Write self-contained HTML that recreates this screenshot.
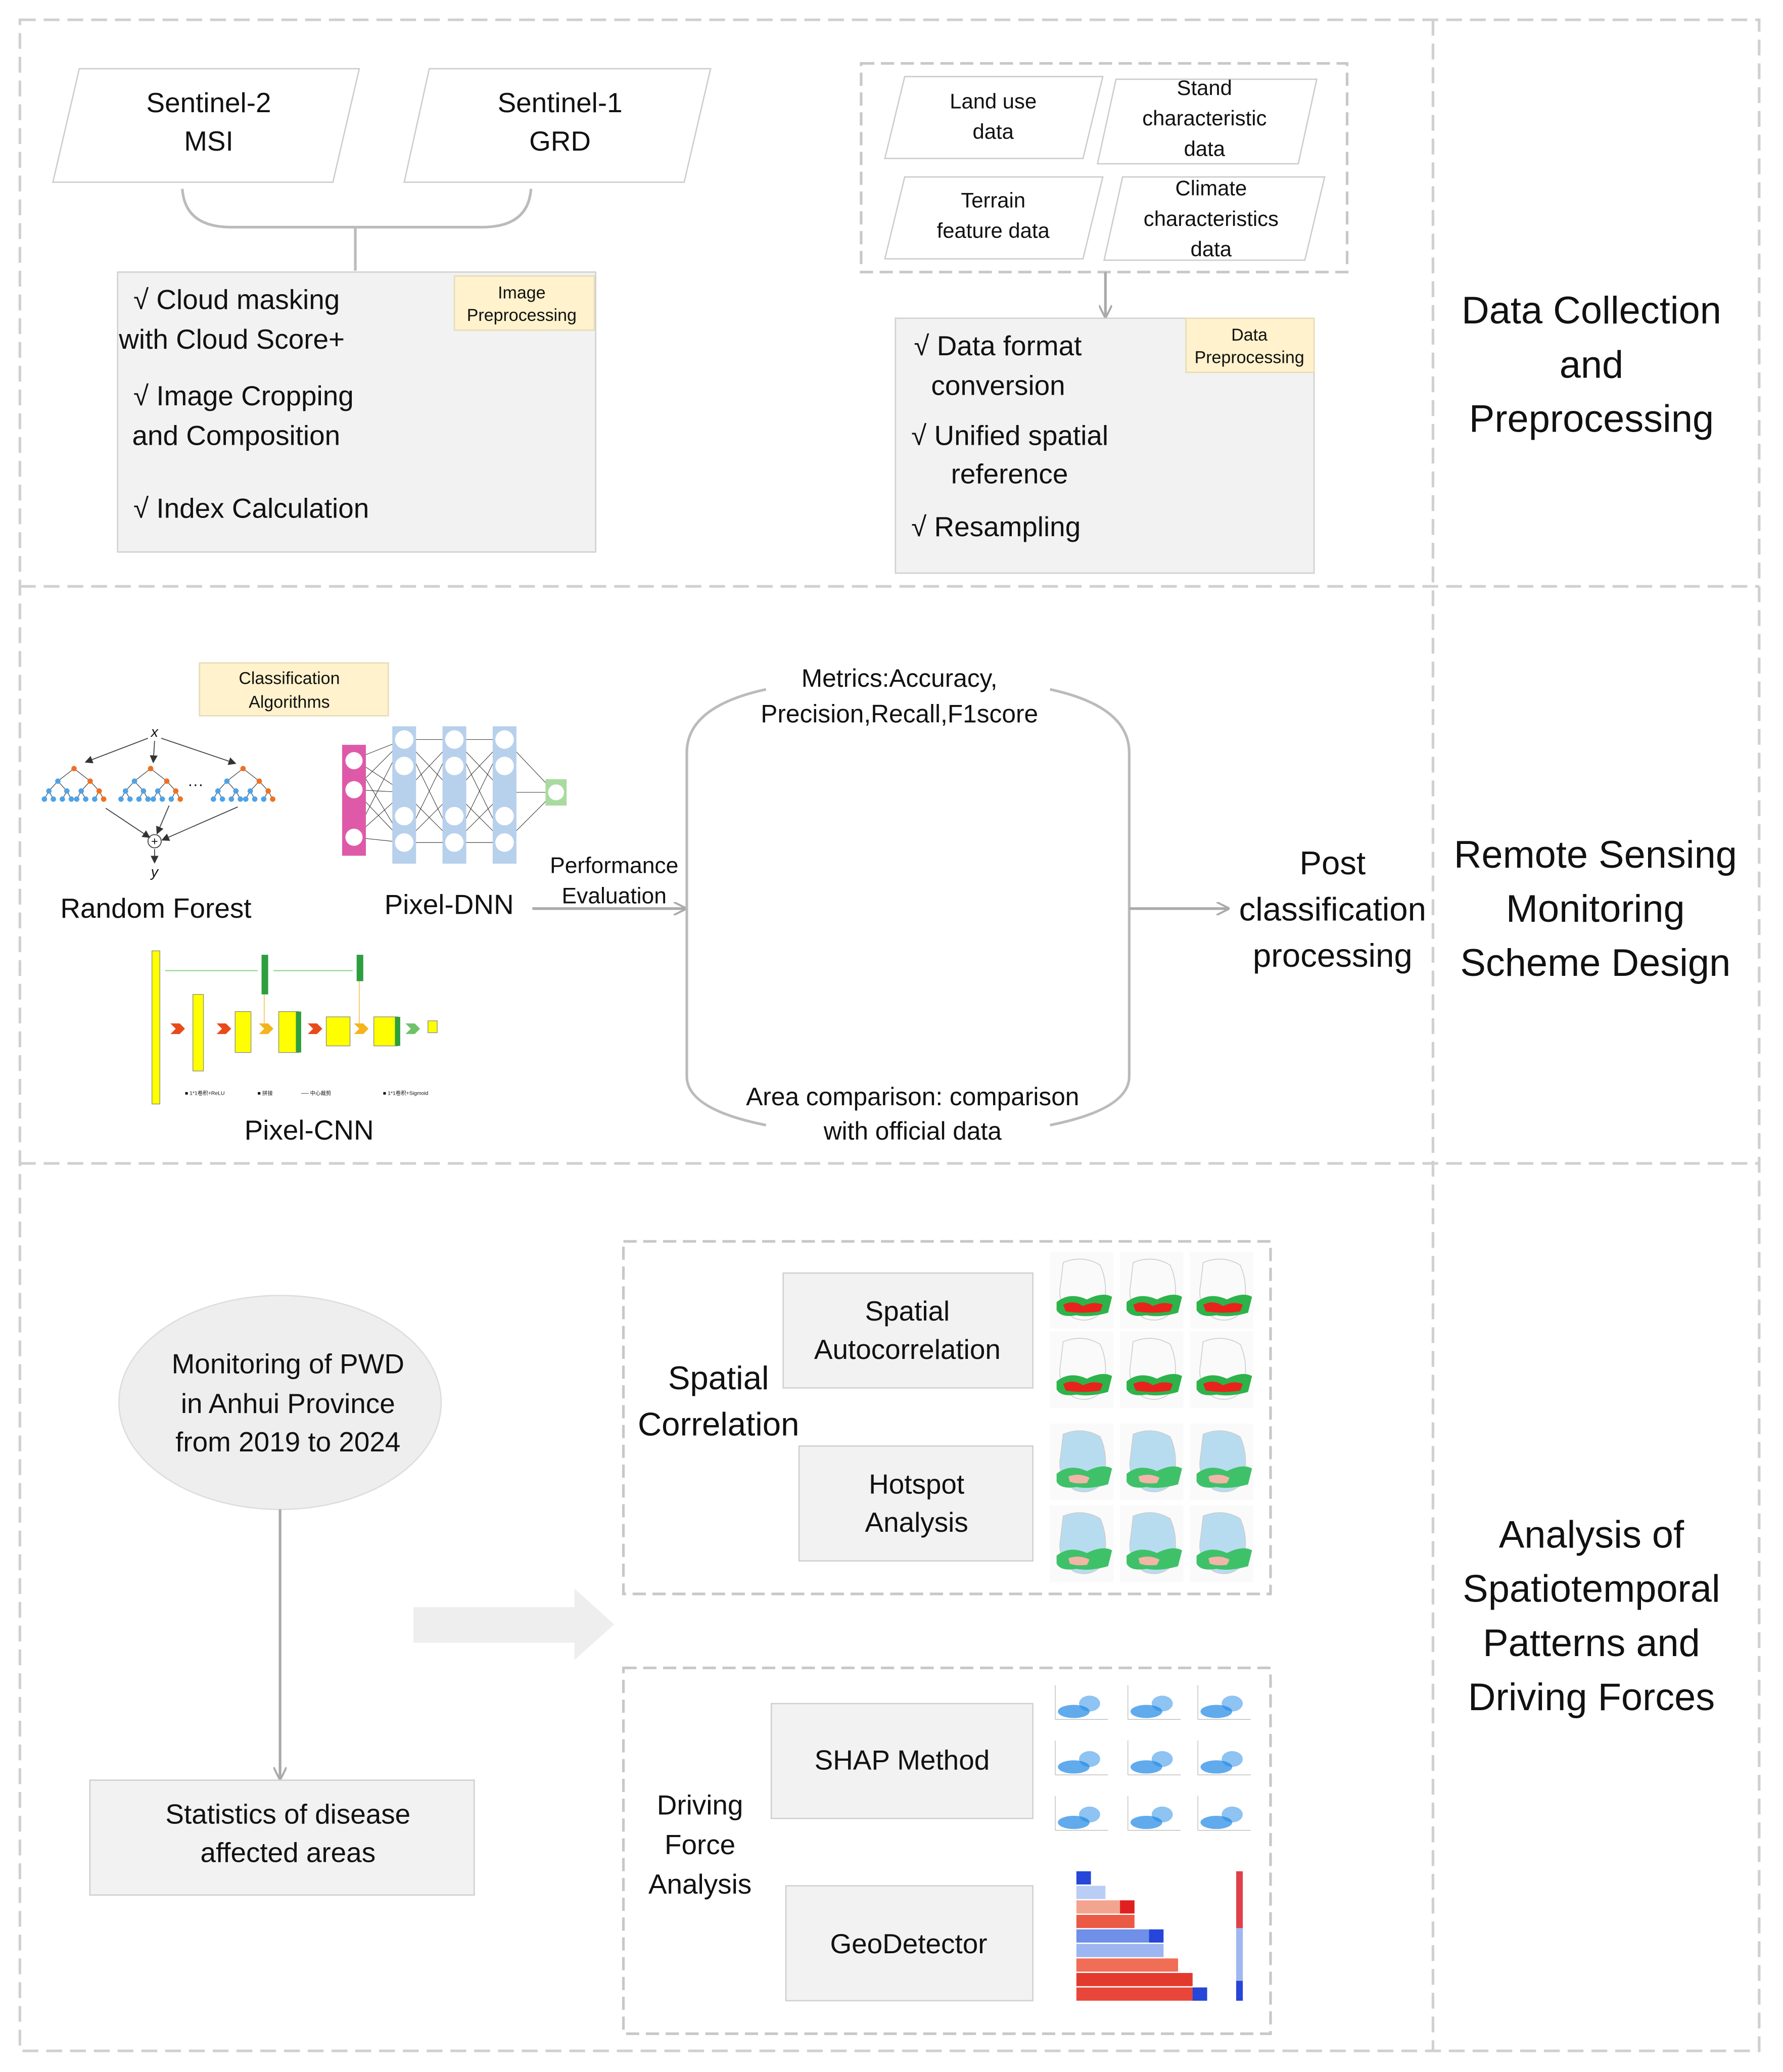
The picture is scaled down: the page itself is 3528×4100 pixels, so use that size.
<!DOCTYPE html>
<html><head><meta charset="utf-8"><style>
html,body{margin:0;padding:0;background:#fff}
svg{display:block}
text{font-family:"Liberation Sans","DejaVu Sans",sans-serif;fill:#111}
</style></head><body>
<svg width="3528" height="4100" viewBox="0 0 1350 1569" xmlns="http://www.w3.org/2000/svg">
<defs>
<marker id="ag" markerWidth="10" markerHeight="10" refX="9" refY="5" orient="auto" markerUnits="userSpaceOnUse"><path d="M0,0 L10,5 L0,10" fill="none" stroke="#aaa" stroke-width="1.5"/></marker>
<marker id="ak" markerWidth="6" markerHeight="6" refX="5" refY="3" orient="auto" markerUnits="userSpaceOnUse"><path d="M0,0 L6,3 L0,6Z" fill="#333"/></marker>
<g id="tree">
<path d="M0,0 L-18,14 M0,0 L18,14 M-18,14 L-28,25 M-18,14 L-8,25 M18,14 L8,25 M18,14 L28,25 M-28,25 L-33,34 M-28,25 L-23,34 M-8,25 L-13,34 M-8,25 L-3,34 M8,25 L3,34 M8,25 L13,34 M28,25 L23,34 M28,25 L33,34" stroke="#555" stroke-width="0.8"/>
<g fill="#4da3e8"><circle cx="-18" cy="14" r="3"/><circle cx="-28" cy="25" r="3"/><circle cx="-8" cy="25" r="3"/><circle cx="8" cy="25" r="3"/><circle cx="-33" cy="34" r="3"/><circle cx="-23" cy="34" r="3"/><circle cx="-13" cy="34" r="3"/><circle cx="-3" cy="34" r="3"/><circle cx="3" cy="34" r="3"/><circle cx="13" cy="34" r="3"/><circle cx="23" cy="34" r="3"/></g>
<g fill="#f07020"><circle cx="0" cy="0" r="3"/><circle cx="18" cy="14" r="3"/><circle cx="28" cy="25" r="3"/><circle cx="33" cy="34" r="3"/></g>
</g>
<g id="map"><rect width="48" height="58" fill="#fafafa"/><path d="M10,8 Q25,2 38,10 Q45,25 40,45 Q30,55 18,50 Q5,40 8,25Z" fill="none" stroke="#ccc" stroke-width="0.6"/><path d="M5,38 Q15,30 28,36 Q40,30 47,34 L44,46 Q30,50 20,48 Q8,50 5,44Z" fill="#2db34a"/><path d="M10,40 Q18,36 25,41 Q33,37 40,40 L38,45 Q25,47 12,45Z" fill="#e8231c"/></g>
<g id="map2"><rect width="48" height="58" fill="#fafafa"/><path d="M10,8 Q25,2 38,10 Q45,25 40,45 Q30,55 18,50 Q5,40 8,25Z" fill="#b8dcef" stroke="#ccc" stroke-width="0.6"/><path d="M5,38 Q15,30 28,36 Q40,30 47,34 L44,46 Q30,50 20,48 Q8,50 5,44Z" fill="#3fc16a"/><path d="M14,40 Q22,37 30,41 L28,45 Q20,46 15,44Z" fill="#f2b5a8"/></g>
<g id="sc"><rect width="48" height="36" fill="#fff"/><path d="M4,30 L44,30 M4,30 L4,4" stroke="#bbb" stroke-width="0.5"/><g fill="#1e88e5"><ellipse cx="18" cy="24" rx="12" ry="5" opacity="0.7"/><ellipse cx="30" cy="18" rx="8" ry="6" opacity="0.5"/></g></g>
</defs>

<!-- frame -->
<g fill="none" stroke="#d0d0d0" stroke-width="2" stroke-dasharray="12,6">
<rect x="15" y="15" width="1317" height="1538"/>
<line x1="1085" y1="15" x2="1085" y2="1553"/>
<line x1="15" y1="444" x2="1332" y2="444"/>
<line x1="15" y1="881" x2="1332" y2="881"/>
</g>

<!-- section 1 -->
<g fill="#fff" stroke="#ccc" stroke-width="1">
<polygon points="60,52 272,52 252,138 40,138"/>
<polygon points="325,52 538,52 518,138 306,138"/>
</g>
<text x="158" y="85" font-size="21" text-anchor="middle">Sentinel-2</text>
<text x="158" y="114" font-size="21" text-anchor="middle">MSI</text>
<text x="424" y="85" font-size="21" text-anchor="middle">Sentinel-1</text>
<text x="424" y="114" font-size="21" text-anchor="middle">GRD</text>
<path d="M138,143 Q140,172 175,172 L365,172 Q400,172 402,143 M269,172 L269,205" fill="none" stroke="#bbb" stroke-width="2"/>
<rect x="89" y="206" width="362" height="212" fill="#f2f2f2" stroke="#d0d0d0"/>
<rect x="344" y="209" width="106" height="41" fill="#fff2cc" stroke="#e6dcb8"/>
<text x="395" y="226" font-size="13" text-anchor="middle">Image</text>
<text x="395" y="243" font-size="13" text-anchor="middle">Preprocessing</text>
<g font-size="21">
<text x="101" y="234">√ Cloud masking</text>
<text x="90" y="264">with Cloud Score+</text>
<text x="101" y="307">√ Image Cropping</text>
<text x="100" y="337">and Composition</text>
<text x="101" y="392">√ Index Calculation</text>
</g>

<rect x="652" y="48" width="368" height="158" fill="none" stroke="#c8c8c8" stroke-width="2" stroke-dasharray="10,5"/>
<g fill="#fff" stroke="#ccc">
<polygon points="685,58 835,58 820,120 670,120"/>
<polygon points="845,60 997,60 983,124 831,124"/>
<polygon points="685,134 835,134 820,196 670,196"/>
<polygon points="850,134 1003,134 988,197 836,197"/>
</g>
<g font-size="16" text-anchor="middle">
<text x="752" y="82">Land use</text><text x="752" y="105">data</text>
<text x="912" y="72">Stand</text><text x="912" y="95">characteristic</text><text x="912" y="118">data</text>
<text x="752" y="157">Terrain</text><text x="752" y="180">feature data</text>
<text x="917" y="148">Climate</text><text x="917" y="171">characteristics</text><text x="917" y="194">data</text>
</g>
<line x1="837" y1="206" x2="837" y2="240" stroke="#aaa" stroke-width="2" marker-end="url(#ag)"/>
<rect x="678" y="241" width="317" height="193" fill="#f2f2f2" stroke="#d0d0d0"/>
<rect x="898" y="241" width="97" height="41" fill="#fff2cc" stroke="#e6dcb8"/>
<text x="946" y="258" font-size="13" text-anchor="middle">Data</text>
<text x="946" y="275" font-size="13" text-anchor="middle">Preprocessing</text>
<g font-size="21">
<text x="692" y="269">√ Data format</text>
<text x="705" y="299">conversion</text>
<text x="690" y="337">√ Unified spatial</text>
<text x="720" y="366">reference</text>
<text x="690" y="406">√ Resampling</text>
</g>
<g font-size="29" text-anchor="middle">
<text x="1205" y="245">Data Collection</text>
<text x="1205" y="286">and</text>
<text x="1205" y="327">Preprocessing</text>
</g>

<!-- section 2 -->
<rect x="151" y="502" width="143" height="40" fill="#fff2cc" stroke="#e6dcb8"/>
<text x="219" y="518" font-size="13" text-anchor="middle">Classification</text>
<text x="219" y="536" font-size="13" text-anchor="middle">Algorithms</text>
<!-- random forest -->
<text x="117" y="558" font-size="11" font-style="italic" text-anchor="middle" font-family="Liberation Serif">x</text>
<g stroke="#444" stroke-width="0.7" fill="none">
<path d="M112,559 L65,577" marker-end="url(#ak)"/><path d="M117,561 L116,577" marker-end="url(#ak)"/><path d="M122,559 L178,578" marker-end="url(#ak)"/>
<path d="M80,612 L113,634" marker-end="url(#ak)"/><path d="M128,610 L119,631" marker-end="url(#ak)"/><path d="M180,611 L123,636" marker-end="url(#ak)"/>
<circle cx="117" cy="637" r="5"/><path d="M117,643 L117,653" marker-end="url(#ak)"/>
</g>
<text x="117" y="640" font-size="9" text-anchor="middle">+</text>
<text x="117" y="664" font-size="11" font-style="italic" text-anchor="middle" font-family="Liberation Serif">y</text>
<g transform="translate(56,582) scale(0.68)"><use href="#tree"/></g>
<g transform="translate(114,582) scale(0.68)"><use href="#tree"/></g>
<g transform="translate(184,582) scale(0.68)"><use href="#tree"/></g>
<text x="148" y="598" font-size="12" text-anchor="middle">···</text>
<text x="118" y="695" font-size="21" text-anchor="middle">Random Forest</text>
<!-- DNN -->
<g stroke="#333" stroke-width="0.4">
<path d="M268,575 L306,560 M268,575 L306,600 M268,575 L306,638 M268,598 L306,560 M268,598 L306,600 M268,598 L306,638 M268,634 L306,560 M268,634 L306,600 M268,634 L306,638 M306,560 L344,600 M306,560 L344,638 M306,600 L344,560 M306,600 L344,638 M306,638 L344,560 M306,638 L344,600 M306,560 L344,560 M306,638 L344,638 M344,560 L382,600 M344,560 L382,638 M344,600 L382,560 M344,600 L382,638 M344,638 L382,560 M344,638 L382,600 M344,560 L382,560 M344,638 L382,638 M382,560 L420,600 M382,600 L420,600 M382,638 L420,600"/>
</g>
<rect x="259" y="564" width="18" height="84" fill="#de5aa8"/>
<g fill="#fff"><circle cx="268" cy="576" r="6.5"/><circle cx="268" cy="598" r="6.5"/><circle cx="268" cy="634" r="6.5"/></g>
<g fill="#b7d0ec"><rect x="297" y="550" width="18" height="104"/><rect x="335" y="550" width="18" height="104"/><rect x="373" y="550" width="18" height="104"/></g>
<g fill="#fff"><circle cx="306" cy="560" r="7"/><circle cx="306" cy="580" r="7"/><circle cx="306" cy="618" r="7"/><circle cx="306" cy="638" r="7"/><circle cx="344" cy="560" r="7"/><circle cx="344" cy="580" r="7"/><circle cx="344" cy="618" r="7"/><circle cx="344" cy="638" r="7"/><circle cx="382" cy="560" r="7"/><circle cx="382" cy="580" r="7"/><circle cx="382" cy="618" r="7"/><circle cx="382" cy="638" r="7"/></g>
<rect x="413" y="590" width="16" height="20" fill="#a9dba0"/><circle cx="421" cy="600" r="6" fill="#fff"/>
<text x="340" y="692" font-size="21" text-anchor="middle">Pixel-DNN</text>
<!-- CNN -->
<rect x="115" y="720" width="6" height="116" fill="#ffff00" stroke="#888" stroke-width="0.5"/>
<rect x="146" y="753" width="8" height="58" fill="#ffff00" stroke="#888" stroke-width="0.5"/>
<rect x="178" y="766" width="12" height="31" fill="#ffff00" stroke="#888" stroke-width="0.5"/>
<rect x="211" y="766" width="15" height="31" fill="#ffff00" stroke="#888" stroke-width="0.5"/><rect x="224" y="766" width="4" height="31" fill="#2e9e3e"/>
<rect x="247" y="770" width="18" height="22" fill="#ffff00" stroke="#888" stroke-width="0.5"/>
<rect x="283" y="770" width="18" height="22" fill="#ffff00" stroke="#888" stroke-width="0.5"/><rect x="299" y="770" width="4" height="22" fill="#2e9e3e"/>
<rect x="324" y="773" width="7" height="9" fill="#ffff00" stroke="#888" stroke-width="0.5"/>
<rect x="198" y="723" width="5" height="30" fill="#2e9e3e"/><rect x="270" y="723" width="5" height="20" fill="#2e9e3e"/>
<path d="M125,735 L195,735 M207,735 L267,735" stroke="#8fd68a" stroke-width="0.8"/>
<path d="M200,753 L200,777 M272,743 L272,777" stroke="#f6c046" stroke-width="0.6"/>
<g fill="#e84a1a"><path d="M129,775 L136,775 L140,779 L136,783 L129,783 L133,779Z"/><path d="M164,775 L171,775 L175,779 L171,783 L164,783 L168,779Z"/><path d="M233,775 L240,775 L244,779 L240,783 L233,783 L237,779Z"/></g>
<g fill="#f5b41b"><path d="M196,775 L203,775 L207,779 L203,783 L196,783 L200,779Z"/><path d="M268,775 L275,775 L279,779 L275,783 L268,783 L272,779Z"/></g>
<path d="M307,775 L314,775 L318,779 L314,783 L307,783 L311,779Z" fill="#6ec26a"/>
<g font-size="4" fill="#666"><text x="140" y="829">■ 1*1卷积+ReLU</text><text x="195" y="829">■ 拼接</text><text x="228" y="829">── 中心裁剪</text><text x="290" y="829">■ 1*1卷积+Sigmoid</text></g>
<text x="234" y="863" font-size="21" text-anchor="middle">Pixel-CNN</text>

<text x="465" y="661" font-size="17" text-anchor="middle">Performance</text>
<text x="465" y="684" font-size="17" text-anchor="middle">Evaluation</text>
<line x1="403" y1="688" x2="519" y2="688" stroke="#aaa" stroke-width="2" marker-end="url(#ag)"/>
<path d="M580,522 Q520,535 520,570 L520,815 Q520,840 580,852 M795,522 Q855,535 855,570 L855,815 Q855,840 795,852" fill="none" stroke="#bbb" stroke-width="2"/>
<text x="681" y="520" font-size="19" text-anchor="middle">Metrics:Accuracy,</text>
<text x="681" y="547" font-size="19" text-anchor="middle">Precision,Recall,F1score</text>
<text x="691" y="837" font-size="19" text-anchor="middle">Area comparison: comparison</text>
<text x="691" y="863" font-size="19" text-anchor="middle">with official data</text>
<line x1="855" y1="688" x2="930" y2="688" stroke="#aaa" stroke-width="2" marker-end="url(#ag)"/>
<g font-size="25" text-anchor="middle">
<text x="1009" y="662">Post</text><text x="1009" y="697">classification</text><text x="1009" y="732">processing</text>
</g>
<g font-size="29" text-anchor="middle">
<text x="1208" y="657">Remote Sensing</text><text x="1208" y="698">Monitoring</text><text x="1208" y="739">Scheme Design</text>
</g>

<!-- section 3 -->
<ellipse cx="212" cy="1062" rx="122" ry="81" fill="#eeeeee" stroke="#ddd"/>
<g font-size="21" text-anchor="middle"><text x="218" y="1040">Monitoring of PWD</text><text x="218" y="1070">in Anhui Province</text><text x="218" y="1099">from 2019 to 2024</text></g>
<line x1="212" y1="1143" x2="212" y2="1347" stroke="#aaa" stroke-width="2" marker-end="url(#ag)"/>
<rect x="68" y="1348" width="291" height="87" fill="#f2f2f2" stroke="#d0d0d0"/>
<text x="218" y="1381" font-size="21" text-anchor="middle">Statistics of disease</text>
<text x="218" y="1410" font-size="21" text-anchor="middle">affected areas</text>
<polygon points="313,1217 435,1217 435,1203 465,1230 435,1257 435,1244 313,1244" fill="#eeeeee"/>

<rect x="472" y="940" width="490" height="267" fill="none" stroke="#c8c8c8" stroke-width="2" stroke-dasharray="10,5"/>
<rect x="472" y="1263" width="490" height="277" fill="none" stroke="#c8c8c8" stroke-width="2" stroke-dasharray="10,5"/>
<g fill="#f2f2f2" stroke="#d0d0d0">
<rect x="593" y="964" width="189" height="87"/><rect x="605" y="1095" width="177" height="87"/>
<rect x="584" y="1290" width="198" height="87"/><rect x="595" y="1428" width="187" height="87"/>
</g>
<g font-size="21" text-anchor="middle">
<text x="687" y="1000">Spatial</text><text x="687" y="1029">Autocorrelation</text>
<text x="694" y="1131">Hotspot</text><text x="694" y="1160">Analysis</text>
<text x="683" y="1340">SHAP Method</text>
<text x="688" y="1479">GeoDetector</text>
<text x="544" y="1052" font-size="25">Spatial</text><text x="544" y="1087" font-size="25">Correlation</text>
<text x="530" y="1374">Driving</text><text x="530" y="1404">Force</text><text x="530" y="1434">Analysis</text>
</g>
<use href="#map" x="795" y="948"/><use href="#map" x="848" y="948"/><use href="#map" x="901" y="948"/>
<use href="#map" x="795" y="1008"/><use href="#map" x="848" y="1008"/><use href="#map" x="901" y="1008"/>
<use href="#map2" x="795" y="1078"/><use href="#map2" x="848" y="1078"/><use href="#map2" x="901" y="1078"/>
<use href="#map2" x="795" y="1140"/><use href="#map2" x="848" y="1140"/><use href="#map2" x="901" y="1140"/>
<use href="#sc" x="795" y="1272"/><use href="#sc" x="850" y="1272"/><use href="#sc" x="903" y="1272"/>
<use href="#sc" x="795" y="1314"/><use href="#sc" x="850" y="1314"/><use href="#sc" x="903" y="1314"/>
<use href="#sc" x="795" y="1356"/><use href="#sc" x="850" y="1356"/><use href="#sc" x="903" y="1356"/>
<!-- heatmap -->
<g>
<rect x="815" y="1417" width="11" height="10" fill="#2546d8"/>
<rect x="815" y="1428" width="22" height="10" fill="#b9cdf5"/>
<rect x="815" y="1439" width="33" height="10" fill="#f3a48f"/>
<rect x="815" y="1450" width="44" height="10" fill="#ea5a45"/>
<rect x="815" y="1461" width="55" height="10" fill="#6f8fe8"/>
<rect x="815" y="1472" width="66" height="10" fill="#9db5f0"/>
<rect x="815" y="1483" width="77" height="10" fill="#ef6e55"/>
<rect x="815" y="1494" width="88" height="10" fill="#e23b2e"/>
<rect x="815" y="1505" width="99" height="10" fill="#e8463a"/>
<rect x="848" y="1439" width="11" height="10" fill="#e02020"/><rect x="870" y="1461" width="11" height="10" fill="#2546d8"/>
<rect x="903" y="1505" width="11" height="10" fill="#2546d8"/>
<rect x="936" y="1417" width="5" height="98" fill="#e0404a"/><rect x="936" y="1460" width="5" height="40" fill="#9fb8f2"/><rect x="936" y="1500" width="5" height="15" fill="#2546d8"/>
</g>
<g font-size="29" text-anchor="middle">
<text x="1205" y="1172">Analysis of</text><text x="1205" y="1213">Spatiotemporal</text><text x="1205" y="1254">Patterns and</text><text x="1205" y="1295">Driving Forces</text>
</g>
</svg>
</body></html>
